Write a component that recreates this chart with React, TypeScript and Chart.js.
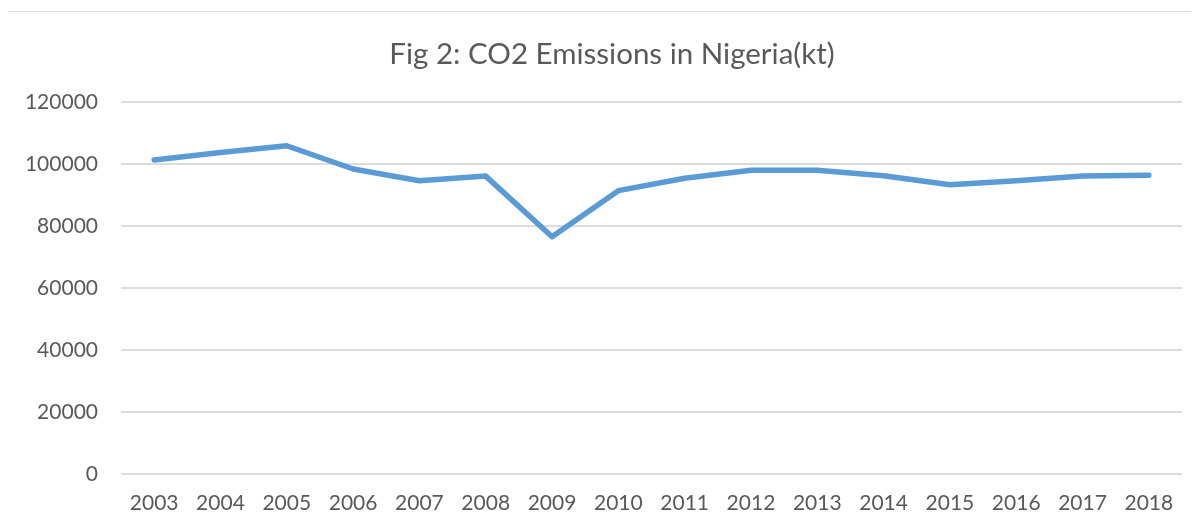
import React, { useEffect, useRef } from "react";
import { Chart, registerables } from "chart.js";

Chart.register(...registerables);

const years = ["2003","2004","2005","2006","2007","2008","2009","2010","2011","2012","2013","2014","2015","2016","2017","2018"];
const emissions = [101400,103800,106000,98500,94700,96200,76600,91500,95500,98100,98100,96300,93400,94700,96200,96500];
const titleText = "Fig 2: CO2 Emissions in Nigeria(kt)";
const yMin = 0;
const yMax = 120000;
const yStep = 20000;

export default function App() {
  const ref = useRef<HTMLCanvasElement | null>(null);
  useEffect(() => {
    if (!ref.current) return;
    const chart = new Chart(ref.current, {
      type: "line",
      data: {
        labels: years,
        datasets: [
          {
            label: "CO2",
            data: emissions,
            borderColor: "#5B9BD5",
            backgroundColor: "#5B9BD5",
            borderWidth: 5.5,
            borderCapStyle: "round",
            borderJoinStyle: "round",
            pointRadius: 0,
            tension: 0,
            fill: false,
            yAxisID: "y",
          },
        ],
      },
      options: {
        responsive: false,
        animation: false,
        maintainAspectRatio: false,
        layout: { padding: { left: 0, right: 0, top: 0, bottom: 0 } },
        plugins: {
          legend: { display: false },
          tooltip: { enabled: false },
          title: {
            display: true,
            text: titleText,
            color: "#595959",
            font: { family: "Lato", size: 29.5, weight: "normal" },
            padding: { top: 25, bottom: 30 },
          },
        },
        scales: {
          x: {
            offset: true,
            grid: { display: false, drawTicks: false },
            border: { display: false },
            ticks: {
              color: "#595959",
              font: { family: "Lato", size: 21 },
              padding: 17,
              maxRotation: 0,
              autoSkip: false,
            },
            afterFit: (s: any) => {
              s.height = 55;
            },
          },
          y: {
            min: yMin,
            max: yMax,
            grid: { color: "#dcdcdc", lineWidth: 2, drawTicks: false },
            border: { display: false },
            ticks: {
              stepSize: yStep,
              color: "#595959",
              font: { family: "Lato", size: 21 },
              padding: 23,
              callback: (v: any) => String(v),
            },
            afterFit: (s: any) => {
              s.width = 113;
            },
          },
          yRight: {
            position: "right",
            min: yMin,
            max: yMax,
            grid: { display: false, drawTicks: false },
            border: { display: false },
            ticks: { display: false },
            afterFit: (s: any) => {
              s.width = 34;
            },
          },
        },
      },
    });
    return () => chart.destroy();
  }, []);
  return (
    <div
      style={{
        marginLeft: -1,
        marginTop: 3,
        width: 1192,
        height: 518,
        borderTop: "1px solid #d9d9d9",
        borderLeft: "1px solid #d9d9d9",
        overflow: "hidden",
        background: "#fff",
      }}
    >
      <canvas ref={ref} width={1208} height={517} style={{ display: "block" }} />
    </div>
  );
}
